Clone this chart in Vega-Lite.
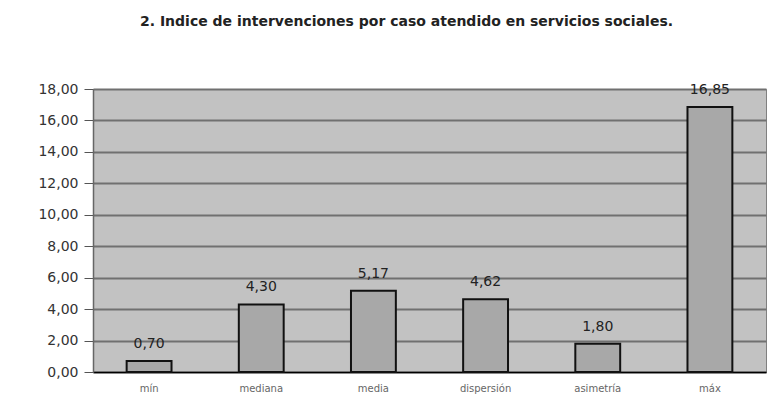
{
  "$schema": "https://vega.github.io/schema/vega-lite/v6.json",
  "autosize": "none",
  "width": 673,
  "height": 283,
  "padding": {"left": 93, "top": 89, "right": 6, "bottom": 35},
  "background": "#ffffff",
  "config": {
    "locale": {"number": {"decimal": ",", "thousands": ".", "grouping": [3], "currency": ["", " €"]}},
    "view": {"fill": "#c2c2c2", "stroke": "#808080", "strokeWidth": 1},
    "font": "DejaVu Sans"
  },
  "title": {
    "text": "2. Indice de intervenciones por caso atendido en servicios sociales.",
    "font": "DejaVu Sans",
    "fontSize": 14,
    "fontWeight": "bold",
    "color": "#222222",
    "anchor": "middle",
    "frame": "group",
    "dx": -23,
    "offset": 53
  },
  "data": {
    "values": [
      {"estadistico": "mín", "valor": 0.70},
      {"estadistico": "mediana", "valor": 4.30},
      {"estadistico": "media", "valor": 5.17},
      {"estadistico": "dispersión", "valor": 4.62},
      {"estadistico": "asimetría", "valor": 1.80},
      {"estadistico": "máx", "valor": 16.85}
    ]
  },
  "encoding": {
    "x": {
      "field": "estadistico",
      "type": "nominal",
      "sort": null,
      "scale": {"paddingInner": 0.6, "paddingOuter": 0.3},
      "axis": {
        "title": null,
        "labelAngle": 0,
        "labelFontSize": 10,
        "labelColor": "#666666",
        "labelPadding": 11,
        "ticks": false,
        "domainColor": "#000000",
        "domainWidth": 1.5
      }
    },
    "y": {
      "field": "valor",
      "type": "quantitative",
      "scale": {"domain": [0, 18]},
      "axis": {
        "title": null,
        "values": [0, 2, 4, 6, 8, 10, 12, 14, 16, 18],
        "tickCount": 10,
        "format": ".2f",
        "labelOverlap": false,
        "labelFlush": false,
        "labelBound": false,
        "labelFontSize": 14,
        "labelColor": "#333333",
        "labelPadding": 6,
        "tickSize": 9,
        "tickColor": "#555555",
        "domainColor": "#666666",
        "domainWidth": 1.5,
        "gridColor": "#707070",
        "gridWidth": 1.8
      }
    }
  },
  "layer": [
    {
      "mark": {"type": "bar", "fill": "#a8a8a8", "stroke": "#111111", "strokeWidth": 2}
    },
    {
      "mark": {"type": "text", "baseline": "bottom", "dy": -10, "fontSize": 14, "color": "#222222"},
      "encoding": {
        "text": {"field": "valor", "type": "quantitative", "format": ".2f"}
      }
    }
  ]
}
